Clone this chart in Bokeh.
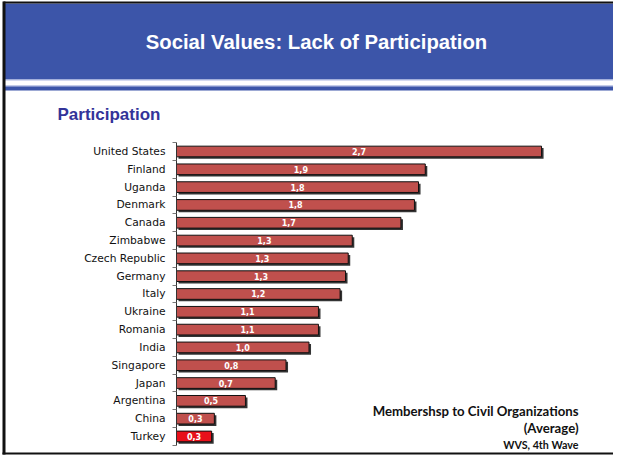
from bokeh.plotting import figure
from bokeh.models import (ColumnDataSource, Range1d, Label, LabelSet, BoxAnnotation,
                          LinearAxis, FixedTicker)
from bokeh.core.properties import value
from bokeh.transform import dodge
from bokeh.embed import file_html
from bokeh.resources import INLINE

# ---- data ----
countries = ["United States", "Finland", "Uganda", "Denmark", "Canada", "Zimbabwe",
             "Czech Republic", "Germany", "Italy", "Ukraine", "Romania", "India",
             "Singapore", "Japan", "Argentina", "China", "Turkey"]
values = [2.70, 1.84, 1.79, 1.76, 1.66, 1.30, 1.27, 1.25, 1.21, 1.05, 1.05, 0.98,
          0.81, 0.73, 0.51, 0.28, 0.26]
value_labels = ["2,7", "1,9", "1,8", "1,8", "1,7", "1,3", "1,3", "1,3", "1,2", "1,1",
                "1,1", "1,0", "0,8", "0,7", "0,5", "0,3", "0,3"]
highlight = "Turkey"

header_title = "Social Values: Lack of Participation"
subtitle = "Participation"
note_lines = ["Membershsp to Civil Organizations", "(Average)", "WVS, 4th Wave"]

# ---- styling / geometry ----
BLUE = "#3c55a9"
BAR = "#c0504d"
HIL = "#e8101a"
W, H = 613, 455
X0, PX = 176, 135.2      # pixel of value 0, pixels per unit
Y0, ROW = 151, 17.81     # pixel of first row centre, pixels per row


def fx(px):
    return (px - X0) / PX


def fy(py):
    return (py - Y0) / ROW


n = len(countries)
pos = list(range(n))

src = ColumnDataSource(dict(
    pos=pos,
    val=values,
    mid=[v / 2 for v in values],
    lab=value_labels,
    color=[HIL if c == highlight else BAR for c in countries],
))

p = figure(width=W, height=H, x_range=Range1d(fx(0), fx(W)), y_range=Range1d(fy(H), fy(0)),
           output_backend="svg", toolbar_location=None, min_border=0,
           x_axis_location=None, y_axis_location=None)
p.grid.visible = False
p.outline_line_color = None
p.background_fill_color = "white"
p.border_fill_color = "white"


def box(l, r, t, b, color):
    p.add_layout(BoxAnnotation(left=fx(l), right=fx(r), top=fy(t), bottom=fy(b),
                               fill_color=color, fill_alpha=1, line_color=None))


# header band and frame lines
box(3, W, 3, 79, BLUE)
box(3, W, 79, 80, "#aab6e2")
box(3, W, 85, 86, "#8a9ad4")
box(3, W, 86, 90, BLUE)
box(3, W, 1, 3, "#111111")
box(2, 5, 1, H - 1, "#111111")
box(2, W, H - 3, H - 1, "#111111")

p.add_layout(Label(x=fx(316), y=fy(41), text=header_title, text_align="center",
                   text_baseline="middle", text_color="white",
                   text_font="Liberation Sans", text_font_style="bold",
                   text_font_size="20.3px"))
p.add_layout(Label(x=fx(57), y=fy(114), text=subtitle, text_align="left",
                   text_baseline="middle", text_color="#333399",
                   text_font="Liberation Sans", text_font_style="bold",
                   text_font_size="17px"))

# category axis at value 0
yaxis = LinearAxis(fixed_location=0,
                   ticker=FixedTicker(ticks=pos, minor_ticks=[i - 0.5 for i in range(n + 1)]),
                   major_label_overrides={i: c for i, c in enumerate(countries)},
                   bounds=(-0.5, n - 0.5))
yaxis.axis_line_color = "#333333"
yaxis.major_tick_out = 0
yaxis.major_tick_in = 0
yaxis.minor_tick_out = 4
yaxis.minor_tick_in = 0
yaxis.minor_tick_line_color = "#777777"
yaxis.major_label_standoff = 7
yaxis.major_label_text_font = "DejaVu Sans"
yaxis.major_label_text_font_size = "10.7px"
yaxis.major_label_text_color = "#111111"
p.add_layout(yaxis, "left")

# shadow
p.hbar(y=dodge("pos", 0.11), left=0.015, right=dodge("val", 0.015), height=0.6,
       source=src, fill_color="#1e1e1e", fill_alpha=0.9, line_color=None)
# bars
p.hbar(y="pos", left=0, right="val", height=0.6, source=src,
       fill_color="color", line_color="#111111", line_width=1)

p.add_layout(LabelSet(x="mid", y="pos", text="lab", source=src,
                      text_align="center", text_baseline="middle",
                      text_color="white", text_font=value("DejaVu Sans"),
                      text_font_style="bold", text_font_size="8px"))

for txt, py, fs in zip(note_lines, [410, 427, 444], ["13.2px", "13.2px", "10.7px"]):
    p.add_layout(Label(x=fx(578), y=fy(py), text=txt, text_align="right",
                       text_baseline="middle", text_color="#111111",
                       text_font="Lato", text_font_style="bold", text_font_size=fs))

open("out.html", "w").write(file_html(p, INLINE))
